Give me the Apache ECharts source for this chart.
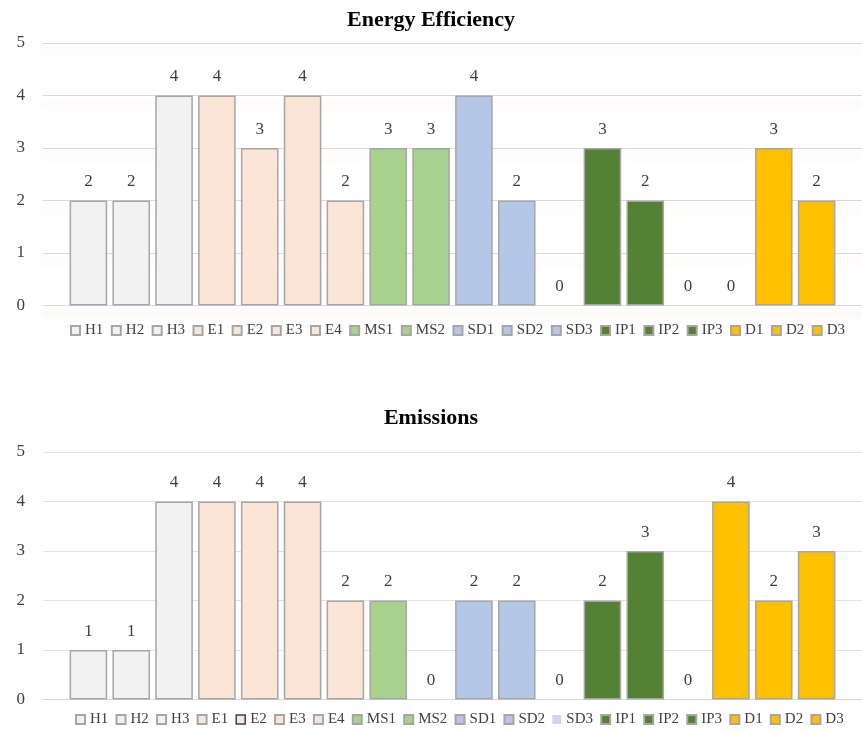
<!DOCTYPE html>
<html>
<head>
<meta charset="utf-8">
<script src="https://cdn.jsdelivr.net/npm/echarts@6/dist/echarts.min.js"></script>
<style>
html,body{margin:0;padding:0;background:#fff;}
#chart{width:862px;height:733px;}
</style>
</head>
<body>
<div id="chart"></div>
<script>
// ---- data ----
const categories = ['H1','H2','H3','E1','E2','E3','E4','MS1','MS2','SD1','SD2','SD3','IP1','IP2','IP3','D1','D2','D3'];
const energyValues = [2,2,4,4,3,4,2,3,3,4,2,0,3,2,0,0,3,2];
const emissionValues = [1,1,4,4,4,4,2,2,0,2,2,0,2,3,0,4,2,3];
const yTicks = [0,1,2,3,4,5];
const titles = ['Energy Efficiency','Emissions'];

// ---- styles ----
const groupColor = {H:'#f2f2f2', E:'#fbe5d6', M:'#a9d18e', S:'#b4c7e7', I:'#548235', D:'#ffc000'};
const colorOf = name => groupColor[name[0]];
const FONT = "'Liberation Serif', 'DejaVu Serif', serif";
const TXT = '#404040';

const chart = echarts.init(document.getElementById('chart'), null, {renderer:'canvas'});

function makeSeries(values, gi) {
  return categories.map((name, i) => ({
    type: 'bar',
    name: name,
    xAxisIndex: gi,
    yAxisIndex: gi,
    data: [values[i] === 0 ? {value: values[i], itemStyle: {borderWidth: 0}} : values[i]],
    barGap: '14%',
    barCategoryGap: '6.5%',
    itemStyle: {color: colorOf(name), borderColor: '#a6a6a6', borderWidth: 1.5},
    label: {show: true, position: 'top', distance: 10, fontFamily: FONT, fontSize: 17, color: TXT},
    emphasis: {disabled: true}
  }));
}

function yAxis(gi, shadow) {
  return {
    type: 'value', gridIndex: gi, min: 0, max: 5, interval: 1,
    axisLine: {show: false}, axisTick: {show: false},
    axisLabel: {fontFamily: FONT, fontSize: 17, color: TXT, margin: 18,
      formatter: v => yTicks.includes(v) ? String(v) : ''},
    splitLine: {lineStyle: shadow ? {color: '#d9d9d9', width: 1.2,
      shadowColor: 'rgba(237,125,49,0.22)', shadowBlur: 6, shadowOffsetY: 9} : {color: '#e3e3e3', width: 1.2}}
  };
}

function xAxis(gi, shadow) {
  return {
    type: 'category', gridIndex: gi, data: [''],
    axisTick: {show: false}, axisLabel: {show: false},
    axisLine: {lineStyle: shadow ? {color: '#d9d9d9', width: 1.2,
      shadowColor: 'rgba(237,125,49,0.22)', shadowBlur: 6, shadowOffsetY: 9} : {color: '#d9d9d9', width: 1.2}}
  };
}

function legendData(gi) {
  return categories.map(name => {
    if (gi === 1 && name === 'E2') return {name, itemStyle: {borderColor: '#404040', borderWidth: 1.5}};
    if (gi === 1 && name === 'SD3') return {name, itemStyle: {borderWidth: 0, color: '#c9d7ef'}};
    return {name};
  });
}

const option = {
  animation: false,
  backgroundColor: '#fff',
  title: [
    {text: titles[0], left: 'center', top: 4, textStyle: {fontFamily: FONT, fontSize: 22, fontWeight: 'bold', color: '#000'}},
    {text: titles[1], left: 'center', top: 402, textStyle: {fontFamily: FONT, fontSize: 22, fontWeight: 'bold', color: '#000'}}
  ],
  grid: [
    {left: 43, right: -9, top: 43, bottom: 427.5},
    {left: 43, right: -9, top: 452, bottom: 33.5}
  ],
  xAxis: [xAxis(0, true), xAxis(1, false)],
  yAxis: [yAxis(0, true), yAxis(1, false)],
  legend: [
    {left: 70, top: 323, width: 790, padding: 0, icon: 'rect', itemWidth: 9, itemHeight: 9, itemGap: 7.5, selectedMode: false,
     textStyle: {fontFamily: FONT, fontSize: 15, color: TXT}, data: legendData(0)},
    {left: 75, top: 712, width: 785, padding: 0, icon: 'rect', itemWidth: 9, itemHeight: 9, itemGap: 7.2, selectedMode: false,
     textStyle: {fontFamily: FONT, fontSize: 15, color: TXT}, data: legendData(1)}
  ],
  series: makeSeries(energyValues, 0).concat(makeSeries(emissionValues, 1))
};
chart.setOption(option);
</script>
</body>
</html>
